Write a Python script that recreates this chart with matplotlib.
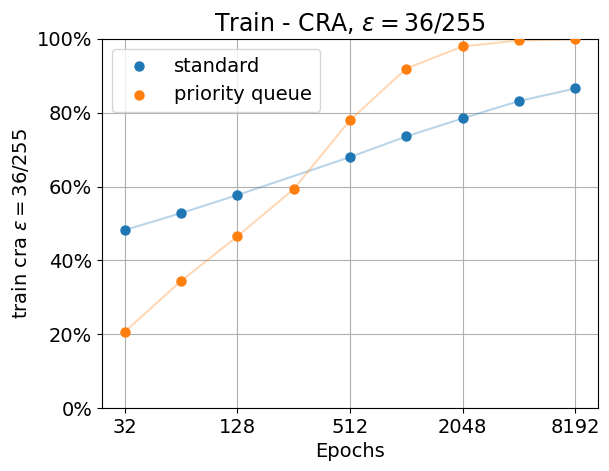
import numpy as np
import matplotlib
matplotlib.use('Agg')
import matplotlib.pyplot as plt
from matplotlib.ticker import PercentFormatter

# epochs and train cra for each method
standard_epochs = [32, 64, 128, 512, 1024, 2048, 4096, 8192]
standard_cra = [0.482, 0.528, 0.577, 0.680, 0.736, 0.785, 0.832, 0.866]

pq_epochs = [32, 64, 128, 256, 512, 1024, 2048, 4096, 8192]
pq_cra = [0.206, 0.344, 0.465, 0.593, 0.780, 0.920, 0.980, 0.996, 0.999]

xticks = [32, 128, 512, 2048, 8192]

plt.rcParams['font.size'] = 14

fig = plt.figure(figsize=(6.09, 4.71), dpi=100)
ax = fig.add_axes([102 / 609, 1 - 408 / 471, 496 / 609, 369 / 471])

ax.plot(standard_epochs, standard_cra, color='C0', alpha=0.3)
ax.scatter(standard_epochs, standard_cra, color='C0', label='standard', s=42, zorder=3)
ax.plot(pq_epochs, pq_cra, color='C1', alpha=0.3)
ax.scatter(pq_epochs, pq_cra, color='C1', label='priority queue', s=42, zorder=3)

ax.set_xscale('log', base=2)
ax.set_xticks(xticks)
ax.set_xticklabels([str(t) for t in xticks])
ax.minorticks_off()
ax.set_ylim(0, 1)
ax.yaxis.set_major_formatter(PercentFormatter(1.0, decimals=0))
ax.grid(True)
ax.set_axisbelow(True)

ax.set_xlabel('Epochs')
ax.set_ylabel(r'train cra $\epsilon = 36/255$')
ax.set_title(r'Train - CRA, $\epsilon = 36/255$', fontsize=17)
ax.legend(loc='upper left')

fig.savefig('out.png', dpi=100)
